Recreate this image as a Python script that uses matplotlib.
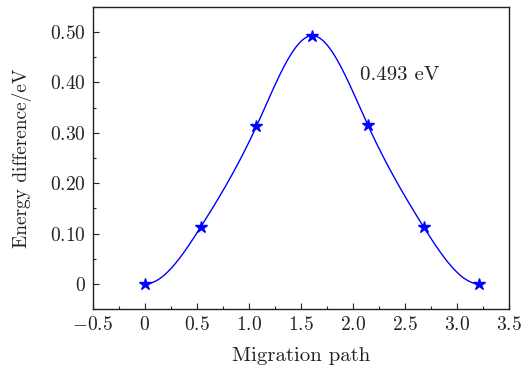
import matplotlib
matplotlib.use('Agg')
import matplotlib.pyplot as plt
import numpy as np

# Data
path = [0.0, 0.536, 1.072, 1.608, 2.144, 2.680, 3.216]
energy = [0.0, 0.113, 0.313, 0.493, 0.315, 0.113, 0.0]
xticks = [-0.5, 0, 0.5, 1.0, 1.5, 2.0, 2.5, 3.0, 3.5]
xticklabels = ['$-0.5$', '$0$', '$0.5$', '$1.0$', '$1.5$', '$2.0$', '$2.5$', '$3.0$', '$3.5$']
yticks = [0, 0.1, 0.2, 0.3, 0.4, 0.5]
yticklabels = ['$0$', '$0.10$', '$0.20$', '$0.30$', '$0.40$', '$0.50$']

plt.rcParams['font.family'] = 'serif'
plt.rcParams['font.serif'] = ['cmr10', 'DejaVu Serif']
plt.rcParams['mathtext.fontset'] = 'cm'
plt.rcParams['axes.unicode_minus'] = False


def clamped_spline(x, y, xs):
    # cubic spline with zero end slopes
    x = np.asarray(x, float)
    y = np.asarray(y, float)
    n = len(x)
    h = np.diff(x)
    A = np.zeros((n, n))
    b = np.zeros(n)
    A[0, 0] = 2 * h[0]
    A[0, 1] = h[0]
    b[0] = 3 * ((y[1] - y[0]) / h[0])
    A[-1, -2] = h[-1]
    A[-1, -1] = 2 * h[-1]
    b[-1] = 3 * (-(y[-1] - y[-2]) / h[-1])
    for i in range(1, n - 1):
        A[i, i - 1] = h[i - 1]
        A[i, i] = 2 * (h[i - 1] + h[i])
        A[i, i + 1] = h[i]
        b[i] = 3 * ((y[i + 1] - y[i]) / h[i] - (y[i] - y[i - 1]) / h[i - 1])
    c = np.linalg.solve(A, b)
    out = np.empty_like(xs)
    for k, xv in enumerate(xs):
        i = min(max(np.searchsorted(x, xv) - 1, 0), n - 2)
        dx = xv - x[i]
        bi = (y[i + 1] - y[i]) / h[i] - h[i] * (2 * c[i] + c[i + 1]) / 3
        di = (c[i + 1] - c[i]) / (3 * h[i])
        out[k] = y[i] + bi * dx + c[i] * dx ** 2 + di * dx ** 3
    return out


fig = plt.figure(figsize=(5.28, 3.65), dpi=100)
ax = fig.add_axes([0.176, 0.153, 0.788, 0.828])

xs = np.linspace(path[0], path[-1], 400)
ax.plot(xs, clamped_spline(path, energy, xs), color='#0000ff', linewidth=1.0)
ax.plot(path, energy, linestyle='none', marker='*', color='#0000ff', markersize=9)

ax.text(2.07, 0.415, '0.493 eV', fontsize=15, va='center', color='#222222')

ax.set_xlim(-0.5, 3.5)
ax.set_ylim(-0.05, 0.55)
ax.set_xticks(xticks)
ax.set_xticklabels(xticklabels)
ax.set_yticks(yticks)
ax.set_yticklabels(yticklabels)
ax.set_xticks(np.arange(-0.25, 3.5, 0.5), minor=True)
ax.set_yticks(np.arange(-0.05, 0.55, 0.1), minor=True)
ax.tick_params(axis='both', which='both', direction='in', labelsize=14, colors='#222222')
ax.tick_params(axis='both', which='major', length=4, width=0.8, pad=5)
ax.tick_params(axis='both', which='minor', length=2.5, width=0.8)
for s in ax.spines.values():
    s.set_linewidth(1.0)
    s.set_color('#222222')

ax.set_xlabel('Migration path', fontsize=15, color='#222222', labelpad=9)
ax.set_ylabel('Energy difference/eV', fontsize=14, color='#222222', labelpad=13)

fig.savefig('out.png', dpi=100)
